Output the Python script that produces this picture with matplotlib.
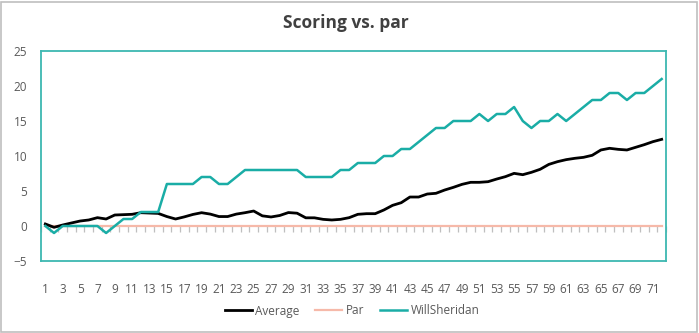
import matplotlib
matplotlib.use("Agg")
import matplotlib.pyplot as plt
from matplotlib.patches import Rectangle

# Cumulative score relative to par, round by round
rounds = list(range(1, 73))
average = [0.29, -0.19, 0.14, 0.43, 0.71, 0.86, 1.19, 1.0, 1.57, 1.62,
           1.67, 1.9, 1.85, 1.8, 1.35, 1.0, 1.3, 1.65, 1.9, 1.7,
           1.35, 1.35, 1.7, 1.9, 2.14, 1.45, 1.29, 1.5, 1.92, 1.83,
           1.17, 1.17, 0.95, 0.86, 0.95, 1.19, 1.67, 1.76, 1.76, 2.29,
           2.95, 3.33, 4.14, 4.14, 4.57, 4.67, 5.14, 5.52, 5.95, 6.24,
           6.24, 6.33, 6.71, 7.05, 7.52, 7.33, 7.67, 8.1, 8.8, 9.19,
           9.48, 9.67, 9.81, 10.1, 10.86, 11.1, 10.95, 10.86, 11.24, 11.62,
           12.05, 12.38]
par = [0] * 72
will_sheridan = [0, -1, 0, 0, 0, 0, 0, -1, 0, 1,
                 1, 2, 2, 2, 6, 6, 6, 6, 7, 7,
                 6, 6, 7, 8, 8, 8, 8, 8, 8, 8,
                 7, 7, 7, 7, 8, 8, 9, 9, 9, 10,
                 10, 11, 11, 12, 13, 14, 14, 15, 15, 15,
                 16, 15, 16, 16, 17, 15, 14, 15, 15, 16,
                 15, 16, 17, 18, 18, 19, 19, 18, 19, 19,
                 20, 21]
y_ticks = [-5, 0, 5, 10, 15, 20, 25]
x_tick_labels = list(range(1, 73, 2))

plt.rcParams['font.family'] = ['Open Sans', 'DejaVu Sans']

W, H = 699, 333
fig = plt.figure(figsize=(W / 100, H / 100), dpi=100)
fig.patch.set_facecolor("white")

# chart-area border
fig.patches.append(Rectangle((0.5 / W, 1.5 / H), (W - 3) / W, (H - 3) / H,
                             transform=fig.transFigure, fill=False,
                             edgecolor="#BFBFBF", linewidth=1.2))

left, right, top, bottom = 41, 666, 51, 261
ax = fig.add_axes([left / W, 1 - bottom / H, (right - left) / W, (bottom - top) / H])

teal = "#1AADA6"
ax.plot(rounds, average, color="black", linewidth=2.0, label="Average", zorder=4)
ax.plot(rounds, par, color="#F6B9A9", linewidth=1.6, label="Par", zorder=3)
ax.plot(rounds, will_sheridan, color=teal, linewidth=1.8, label="WillSheridan", zorder=5)

ax.set_xlim(0.5, 72.5)
ax.set_ylim(-5, 25)
ax.set_yticks(y_ticks)
ax.set_xticks(x_tick_labels)
ax.tick_params(axis="both", length=0, labelsize=8.5, colors="#595959")
ax.tick_params(axis="y", pad=10)
ax.tick_params(axis="x", pad=16)
for sp in ax.spines.values():
    sp.set_color("#3DB8B1")
    sp.set_linewidth(1.3)

# category boundary ticks on the zero line
zero_frac = (0 - (-5)) / 30
sec = ax.secondary_xaxis(zero_frac)
sec.set_xticks([r - 0.5 for r in rounds] + [72.5])
sec.set_xticklabels([])
sec.tick_params(axis="x", direction="out", length=4, width=0.9, colors="#BFBFBF")
sec.spines["bottom"].set_visible(False)
sec.spines["top"].set_visible(False)

fig.text(346 / W, 1 - 23 / H, "Scoring vs. par", ha="center", va="center",
         fontsize=12.5, fontweight="bold", color="#404040")

fig.legend(loc="center", bbox_to_anchor=(352 / W, 1 - 311 / H), ncol=3,
           frameon=False, fontsize=8.5, handlelength=2.3, handletextpad=0.3,
           columnspacing=1.3, labelcolor="#595959")

fig.savefig("out.png", dpi=100)
